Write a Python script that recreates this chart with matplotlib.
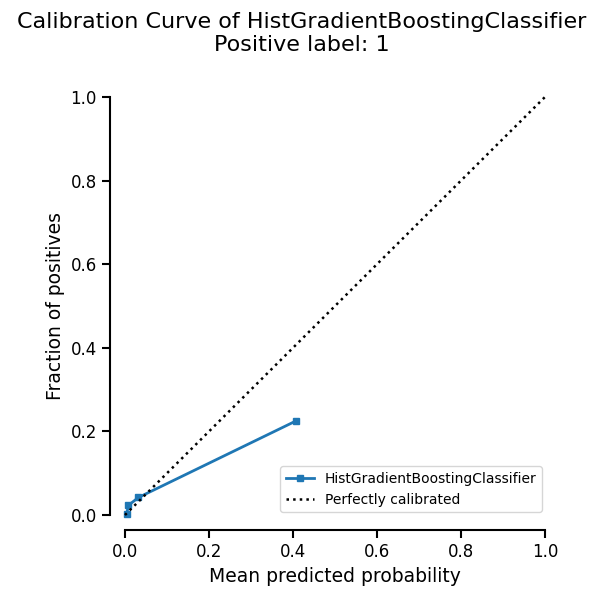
import matplotlib
matplotlib.use("Agg")
import matplotlib.pyplot as plt
import seaborn as sns

# calibration curve values
mean_pred = [0.004, 0.008, 0.032, 0.407]
frac_pos = [0.002, 0.023, 0.042, 0.225]
ticks = [0.0, 0.2, 0.4, 0.6, 0.8, 1.0]

plt.rcParams['font.family'] = ['DejaVu Sans']
plt.rcParams['axes.linewidth'] = 1.5
plt.rcParams['xtick.major.width'] = 1.5
plt.rcParams['ytick.major.width'] = 1.5
plt.rcParams['xtick.major.size'] = 6
plt.rcParams['ytick.major.size'] = 6

fig = plt.figure(figsize=(6.03, 5.97), dpi=100)
ax = fig.add_axes([0.2003, 0.1303, 0.7104, 0.7142])
ax.plot(mean_pred, frac_pos, "s-", color="#1f77b4", linewidth=2, markersize=5,
        label="HistGradientBoostingClassifier")
ax.plot([0, 1], [0, 1], "k:", linewidth=1.8, label="Perfectly calibrated")
ax.set_xlim(-0.01, 1.01)
ax.set_ylim(-0.01, 1.01)
ax.set_xticks(ticks)
ax.set_yticks(ticks)
ax.tick_params(labelsize=12)
ax.set_xlabel("Mean predicted probability", fontsize=13.5)
ax.set_ylabel("Fraction of positives", fontsize=13.5)
fig.suptitle("Calibration Curve of HistGradientBoostingClassifier\nPositive label: 1",
             fontsize=16, y=1 - 12 / 597, va="top")
ax.legend(loc="lower right", fontsize=10)
sns.despine(ax=ax, offset=7.8, trim=True)
fig.savefig("out.png")
